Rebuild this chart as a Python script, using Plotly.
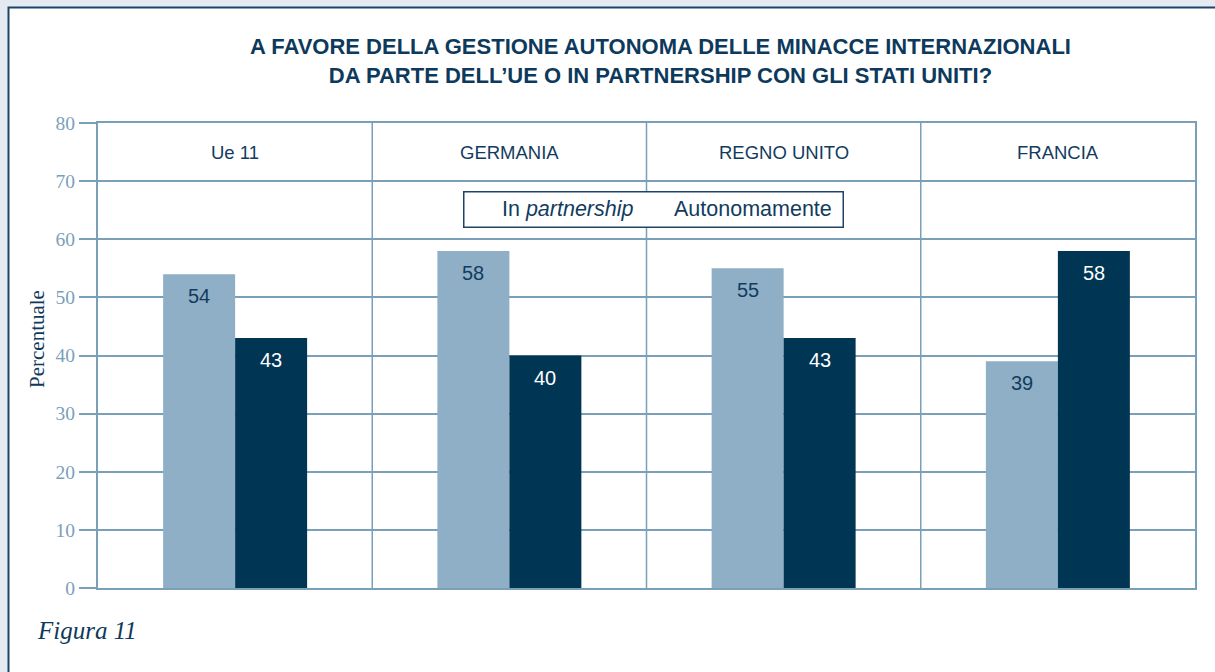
import plotly.graph_objects as go

categories = ["Ue 11", "GERMANIA", "REGNO UNITO", "FRANCIA"]
partnership = [54, 58, 55, 39]
autonomamente = [43, 40, 43, 58]
y_ticks = [0, 10, 20, 30, 40, 50, 60, 70, 80]

LIGHT = "#8eafc6"
DARK = "#003554"
AXIS = "#7a9fb8"
TEXT = "#123c5e"
SANS = "Liberation Sans, Arial"
SERIF = "Liberation Serif, Times New Roman"

# Plot area in pixels: x 98..1195, y 123..588
def px(x):
    return (x - 98) / 1097

def py(y):
    return (588 - y) / 465

fig = go.Figure()
fig.add_trace(go.Bar(x=categories, y=partnership, name="In partnership",
                     marker=dict(color=LIGHT, line=dict(width=0))))
fig.add_trace(go.Bar(x=categories, y=autonomamente, name="Autonomamente",
                     marker=dict(color=DARK, line=dict(width=0))))

annotations = []
for i, c in enumerate(categories):
    annotations.append(dict(x=c, y=partnership[i], xref="x", yref="y", text=str(partnership[i]),
                            showarrow=False, xshift=-36, yshift=-22, yanchor="middle",
                            font=dict(family=SANS, size=20, color=TEXT)))
    annotations.append(dict(x=c, y=autonomamente[i], xref="x", yref="y", text=str(autonomamente[i]),
                            showarrow=False, xshift=36, yshift=-22, yanchor="middle",
                            font=dict(family=SANS, size=20, color="white")))
    annotations.append(dict(x=c, y=75, xref="x", yref="y", text=c, showarrow=False,
                            yanchor="middle",
                            font=dict(family=SANS, size=18.5, color=TEXT)))

# Title
annotations.append(dict(x=px(660), y=py(61.5), xref="paper", yref="paper",
                        xanchor="center", yanchor="middle",
                        showarrow=False, align="center",
                        text="<b>A FAVORE DELLA GESTIONE AUTONOMA DELLE MINACCE INTERNAZIONALI<br>DA PARTE DELL\u2019UE O IN PARTNERSHIP CON GLI STATI UNITI?</b>",
                        font=dict(family=SANS, size=22, color="#0d3a5c")))
# Legend box frame (no swatches, as in the reference)
annotations.append(dict(x=px(653), y=py(209), xref="paper", yref="paper",
                        xanchor="center", yanchor="middle",
                        showarrow=False, text=" ",
                        font=dict(family=SANS, size=21, color=TEXT),
                        bgcolor="white", bordercolor="#1d4466", borderwidth=1.5,
                        width=376, height=32))
annotations.append(dict(x=px(500), y=py(209), xref="paper", yref="paper",
                        xanchor="left", yanchor="middle", showarrow=False,
                        text="In <i>partnership</i>",
                        font=dict(family=SANS, size=21.5, color=TEXT)))
annotations.append(dict(x=px(834), y=py(209), xref="paper", yref="paper",
                        xanchor="right", yanchor="middle", showarrow=False,
                        text="Autonomamente",
                        font=dict(family=SANS, size=21.5, color=TEXT)))
# Y axis title
annotations.append(dict(x=px(37), y=py(339), xref="paper", yref="paper",
                        xanchor="center", yanchor="middle",
                        showarrow=False, textangle=-90, text="Percentuale",
                        font=dict(family=SERIF, size=21, color="#0d3a5c")))
# Figura caption
annotations.append(dict(x=px(35), y=py(630), xref="paper", yref="paper",
                        xanchor="left", yanchor="middle", showarrow=False, text="<i>Figura 11</i>",
                        font=dict(family=SERIF, size=25, color="#0d3a5c")))

shapes = [
    # white panel with dark border
    dict(type="rect", xref="paper", yref="paper", layer="below",
         x0=px(8.5), x1=1.3, y0=-0.5, y1=py(7.5),
         fillcolor="white", line=dict(color="#1d4466", width=2)),
]
for b in [0.5, 1.5, 2.5]:
    shapes.append(dict(type="line", xref="x", yref="y", x0=b, x1=b, y0=0, y1=80,
                       line=dict(color=AXIS, width=1.5), layer="below"))

fig.update_layout(
    width=1215, height=672,
    margin=dict(l=98, r=20, t=123, b=84),
    paper_bgcolor="#e4e9f2", plot_bgcolor="white",
    barmode="group", bargap=0.475, bargroupgap=0,
    showlegend=False, hovermode=False,
    annotations=annotations, shapes=shapes,
    xaxis=dict(showticklabels=False, ticks="", showgrid=False, showline=True,
               linecolor=AXIS, linewidth=2, mirror=True, range=[-0.5, 3.5], fixedrange=True),
    yaxis=dict(range=[0, 80], tickvals=y_ticks, ticks="outside", ticklen=17, tickwidth=1.5,
               tickcolor=AXIS, showgrid=True, gridcolor=AXIS, gridwidth=1.5,
               showline=True, linecolor=AXIS, linewidth=2, mirror=True, zeroline=False,
               tickfont=dict(family=SERIF, size=19.5, color=AXIS)),
)

fig.write_html("out.html", config={"displayModeBar": False},
               post_script="document.body.style.margin='0';document.body.style.background='#e4e9f2';")
